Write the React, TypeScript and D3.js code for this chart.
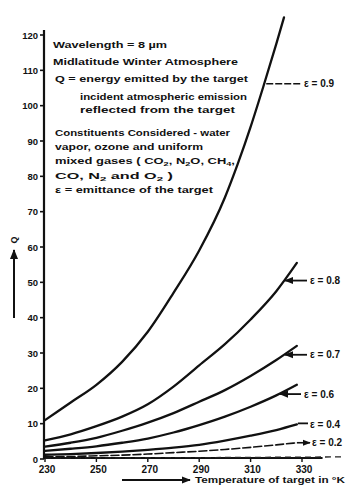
import React from 'react';
import * as d3 from 'd3';

// temperatures (deg K) sampled for the curves
const temps = [230, 240, 250, 260, 270, 280, 290, 300, 310, 320, 328];
const tempsHigh = [230, 240, 250, 260, 270, 280, 290, 300, 305, 310, 315, 320, 323];

// Q values
const q09 = [11, 16, 21, 27.5, 36, 47, 59, 74, 83.5, 94, 105.5, 117.5, 125];
const q08 = [5.3, 7, 9.3, 12, 15.5, 20.5, 26.5, 32.5, 39.5, 47.5, 55.5];
const q07 = [3.5, 4.6, 6, 8, 10.3, 13, 16.2, 19.5, 23.5, 28, 32];
const q06 = [2.3, 2.9, 3.6, 4.6, 5.8, 7.5, 9.6, 12, 14.8, 18, 21];
const q04 = [1.2, 1.4, 1.7, 2.1, 2.6, 3.2, 4, 5.2, 6.6, 8.2, 9.8];
const q02 = [0.6, 0.7, 0.9, 1.1, 1.4, 1.8, 2.2, 2.7, 3.3, 4, 4.6];

// faint unlabelled trace along the bottom
const baseTemps = [230, 290, 346];
const baseQ = [0.3, 0.4, 0.6];

const emittances = ['0.9', '0.8', '0.7', '0.6', '0.4', '0.2'];
const xTicks = [230, 250, 270, 290, 310, 330];
const yTicks = [0, 10, 20, 30, 40, 50, 60, 70, 80, 90, 100, 110, 120];

// notes: each line as [text, subscript] pieces
const notes: [string, boolean][][] = [
  [['Wavelength = 8 µm', false]],
  [['Midlatitude Winter Atmosphere', false]],
  [['Q = energy emitted by the target', false]],
  [['incident atmospheric emission', false]],
  [['reflected from the target', false]],
  [['Constituents Considered - water', false]],
  [['vapor, ozone and uniform', false]],
  [['mixed gases ( CO', false], ['2', true], [', N', false], ['2', true], ['O, CH', false], ['4', true], [',', false]],
  [['CO, N', false], ['2', true], [' and O', false], ['2', true], [' )', false]],
  [['ε = emittance of the target', false]],
];

const FONT = '"Liberation Sans", Arial, sans-serif';

export default function App() {
  const x = d3.scaleLinear().domain([230, 330]).range([45, 302]);
  const y = d3.scaleLinear().domain([0, 120]).range([459, 35]);

  const line = d3
    .line<[number, number]>()
    .x((d) => x(d[0]))
    .y((d) => y(d[1]))
    .curve(d3.curveMonotoneX);

  const zip = (ts: number[], qs: number[]) => ts.map((t, i) => [t, qs[i]] as [number, number]);

  const series = [
    { e: emittances[0], pts: zip(tempsHigh, q09), tipT: 315.3, lx: 304, mode: 'dash' },
    { e: emittances[1], pts: zip(temps, q08), tipT: 323, lx: 310, mode: 'arrow' },
    { e: emittances[2], pts: zip(temps, q07), tipT: 323, lx: 310, mode: 'arrow' },
    { e: emittances[3], pts: zip(temps, q06), tipT: 321, lx: 304, mode: 'arrow' },
    { e: emittances[4], pts: zip(temps, q04), tipT: 328, lx: 310, mode: 'plain' },
    { e: emittances[5], pts: zip(temps, q02), tipT: 328, lx: 312, mode: 'right' },
  ];

  const valueAt = (pts: [number, number][], t: number) => {
    const ts = pts.map((p) => p[0]);
    const qs = pts.map((p) => p[1]);
    const i = Math.max(1, d3.bisectLeft(ts, t));
    const j = Math.min(i, ts.length - 1);
    const f = (t - ts[j - 1]) / (ts[j] - ts[j - 1]);
    return qs[j - 1] + f * (qs[j] - qs[j - 1]);
  };

  const noteLayout = [
    { x: 53, y: 48, w: 114 },
    { x: 53, y: 65, w: 185 },
    { x: 55, y: 82, w: 193 },
    { x: 80, y: 100, w: 167 },
    { x: 80, y: 113, w: 155 },
    { x: 55, y: 136, w: 175 },
    { x: 55, y: 150, w: 148 },
    { x: 55, y: 164, w: 180 },
    { x: 55, y: 179, w: 118 },
    { x: 55, y: 193, w: 158 },
  ];

  return (
    <svg
      width={351}
      height={490}
      style={{ position: 'absolute', left: 0, top: 0, background: '#fff' }}
      fontFamily={FONT}
    >
      <defs>
        <marker id="ah" viewBox="0 0 10 10" refX="9" refY="5" markerWidth="5" markerHeight="5" orient="auto-start-reverse">
          <path d="M0,1 L10,5 L0,9 z" fill="#111" />
        </marker>
      </defs>
      <rect width={351} height={490} fill="#fff" />

      {/* y axis */}
      <line x1={x(230) - 1} x2={x(230) - 1} y1={30} y2={y(0)} stroke="#111" strokeWidth={2.2} />
      {yTicks.map((v) => (
        <g key={v}>
          <line x1={x(230) - 5} x2={x(230) - 1} y1={y(v)} y2={y(v)} stroke="#111" strokeWidth={1.6} />
          <text x={38} y={y(v) + 3.5} textAnchor="end" fontSize={9.5} fontWeight={700} fill="#111">
            {v}
          </text>
        </g>
      ))}

      {/* x axis */}
      <line x1={x(230) - 2} x2={x(338)} y1={y(0) - 1} y2={y(0) - 1} stroke="#111" strokeWidth={2} />
      {xTicks.map((v) => (
        <g key={v}>
          <line x1={x(v)} x2={x(v)} y1={y(0)} y2={y(0) + 3} stroke="#111" strokeWidth={1.4} />
          <text x={x(v) + 2} y={y(0) + 14} textAnchor="middle" fontSize={10} fontWeight={700} fill="#111">
            {v}
          </text>
        </g>
      ))}

      {/* axis titles */}
      <line x1={14} x2={14} y1={318} y2={250} stroke="#111" strokeWidth={2} markerEnd="url(#ah)" />
      <text transform="translate(17,240) rotate(-90)" textAnchor="middle" fontSize={9} fontWeight={700} fill="#111">
        Q
      </text>
      <line x1={122} x2={190} y1={480} y2={480} stroke="#111" strokeWidth={1.8} markerEnd="url(#ah)" />
      <text x={195} y={483} fontSize={9} fontWeight={700} fill="#111" textLength={150} lengthAdjust="spacingAndGlyphs">
        Temperature of target in °K
      </text>

      {/* notes */}
      {notes.map((parts, i) => (
        <text
          key={i}
          x={noteLayout[i].x}
          y={noteLayout[i].y}
          fontSize={8.5}
          fontWeight={700}
          fill="#111"
          textLength={noteLayout[i].w}
          lengthAdjust="spacingAndGlyphs"
        >
          {parts.map(([s, sub], k) =>
            sub ? (
              <tspan key={k} fontSize={6} dy={2}>
                {s}
              </tspan>
            ) : (
              <tspan key={k} dy={k > 0 && parts[k - 1][1] ? -2 : 0}>
                {s}
              </tspan>
            )
          )}
        </text>
      ))}

      {/* bottom trace */}
      <path d={line(zip(baseTemps, baseQ)) || ''} fill="none" stroke="#222" strokeWidth={1.3} strokeDasharray="6 4" />

      {/* curves */}
      {series.map((s) => (
        <path
          key={s.e}
          d={line(s.pts) || ''}
          fill="none"
          stroke="#111"
          strokeWidth={s.e === '0.2' ? 1.6 : 2.3}
          strokeDasharray={s.e === '0.2' ? '8 3' : undefined}
          strokeLinecap="round"
        />
      ))}

      {/* curve labels */}
      {series.map((s) => {
        const tx = x(s.tipT);
        const ty = y(valueAt(s.pts, s.tipT));
        const label = `ε = ${s.e}`;
        return (
          <g key={'l' + s.e}>
            {s.mode === 'dash' && (
              <line x1={tx + 2} x2={s.lx - 3} y1={ty} y2={ty} stroke="#111" strokeWidth={1.6} strokeDasharray="7 2" />
            )}
            {s.mode === 'arrow' && (
              <line x1={s.lx - 3} x2={tx + 1} y1={ty} y2={ty} stroke="#111" strokeWidth={1.8} markerEnd="url(#ah)" />
            )}
            {s.mode === 'plain' && (
              <line x1={tx + 1} x2={s.lx - 2} y1={ty - 1} y2={ty - 1} stroke="#111" strokeWidth={1.8} />
            )}
            {s.mode === 'right' && (
              <line x1={tx} x2={s.lx - 2} y1={ty} y2={ty} stroke="#111" strokeWidth={1.6} markerEnd="url(#ah)" />
            )}
            <text x={s.lx} y={ty + 3.5} fontSize={10} fontWeight={700} fill="#111">
              {label}
            </text>
          </g>
        );
      })}
    </svg>
  );
}
